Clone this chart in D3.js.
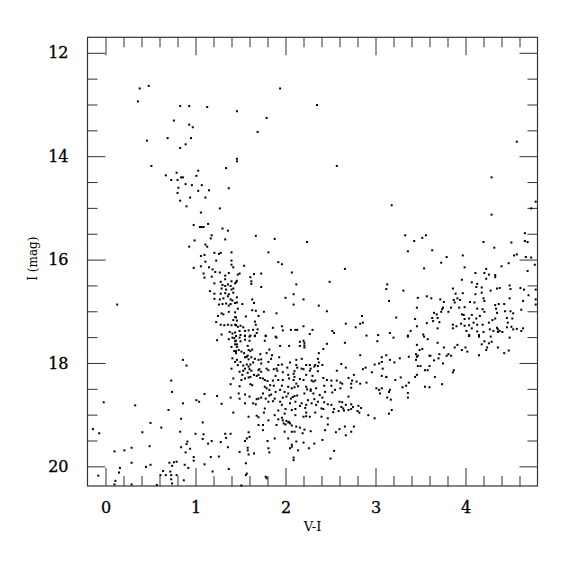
<!DOCTYPE html>
<html><head><meta charset="utf-8">
<script src="https://cdn.jsdelivr.net/npm/d3@7"></script>
<style>body{margin:0;background:#fff}</style>
</head><body>
<script>
// ---- data: [V-I, I] for each star, grouped by region of the diagram ----
const brightStars = [[0.38,12.69],[0.48,12.64],[0.36,12.94],[0.83,13.03],[0.93,13.03],[1.13,13.05],[0.76,13.31],[0.93,13.39],[0.97,13.44],[0.69,13.65],[0.95,13.65],[0.46,13.70],[0.89,13.77],[0.83,13.84],[0.51,14.19],[1.34,14.23],[1.03,14.28],[0.79,14.32],[0.67,14.37],[1.01,14.38],[0.84,14.41],[0.86,14.41],[0.73,14.46],[0.80,14.46],[0.89,14.54],[0.96,14.56],[1.07,14.56],[1.94,12.69],[2.35,13.01],[1.46,13.13],[1.79,13.26],[1.69,13.53],[1.46,14.05],[1.46,14.10],[2.57,14.19],[4.57,13.72],[4.29,14.41]];
const blueBranch = [[0.81,14.61],[1.03,14.67],[1.15,14.66],[1.37,14.62],[0.80,14.71],[0.94,14.80],[1.11,14.80],[0.83,14.86],[0.90,14.97],[1.27,15.01],[1.06,15.09],[0.98,15.33],[1.05,15.37],[1.07,15.37],[1.09,15.37],[1.14,15.31],[1.30,15.40],[1.36,15.44],[1.18,15.53],[1.17,15.59],[0.99,15.63],[1.33,15.61],[1.11,15.71],[1.13,15.75],[0.93,15.75],[1.21,15.87],[1.26,15.89],[1.28,15.87],[1.40,15.86],[1.06,15.93],[1.10,15.91],[1.11,16.04],[1.23,16.02],[1.40,16.02],[1.40,16.10],[1.42,16.15],[0.98,16.16],[1.06,16.13],[1.15,16.15],[1.19,16.19],[1.22,16.24],[1.27,16.25],[1.09,16.27],[1.10,16.35],[1.18,16.33],[1.33,16.31],[1.37,16.26],[1.33,16.38],[1.40,16.42],[1.45,16.44],[1.28,16.43],[1.21,16.46],[1.30,16.49],[1.33,16.51],[1.36,16.48],[1.39,16.51],[1.42,16.56],[1.29,16.56],[1.34,16.58],[1.40,16.58],[1.16,16.61],[1.21,16.66],[1.28,16.66],[1.33,16.65],[1.37,16.67],[1.42,16.64],[1.21,16.76],[1.27,16.77],[1.31,16.75],[1.36,16.71],[1.39,16.77],[1.41,16.79],[1.44,16.84],[1.26,16.87],[1.30,16.86],[1.34,16.85],[1.39,16.86],[1.37,16.89],[0.13,16.87],[1.37,17.01],[1.29,17.04],[1.31,17.06],[1.25,17.09],[1.44,17.11],[1.42,17.17],[1.23,17.21],[1.28,17.26],[1.32,17.27],[1.36,17.26],[1.40,17.27],[1.44,17.26],[1.38,17.40],[1.41,17.43],[1.29,17.45],[1.44,17.41]];
const midField = [[1.67,15.54],[1.88,15.60],[2.24,15.66],[1.81,15.86],[1.92,16.05],[1.96,16.09],[1.54,16.12],[1.49,16.27],[1.47,16.29],[1.65,16.28],[1.73,16.27],[1.61,16.34],[2.07,16.25],[2.66,16.18],[1.46,16.41],[1.44,16.46],[1.62,16.42],[1.62,16.47],[2.49,16.43],[2.12,16.48],[1.73,16.53],[2.09,16.67],[2.00,16.74],[1.46,16.73],[1.63,16.77],[2.20,16.77],[1.46,16.83],[1.52,16.86],[1.65,16.84],[2.09,16.87],[1.47,16.95],[2.37,16.89],[1.63,16.98],[1.67,16.99],[1.44,17.02],[1.76,17.01],[1.90,17.04],[2.46,17.00],[1.70,17.09],[1.56,17.10],[1.45,17.12],[2.85,17.09],[1.46,17.18],[1.66,17.20],[1.67,17.26],[2.67,17.24],[2.86,17.22],[2.83,17.24],[1.45,17.27],[1.47,17.30],[1.50,17.28],[1.53,17.31],[1.86,17.32],[1.96,17.29],[2.20,17.29],[2.78,17.31],[1.49,17.38],[1.55,17.38],[1.59,17.37],[1.64,17.36],[1.69,17.35],[1.97,17.37],[2.06,17.36],[2.11,17.36],[2.13,17.36],[2.30,17.36],[2.52,17.38],[2.54,17.42],[2.27,17.44],[1.68,17.42],[1.50,17.46],[1.55,17.47],[1.61,17.47],[1.66,17.47],[1.78,17.47],[1.89,17.49],[2.90,17.47],[3.03,17.46]];
const redClump = [[3.18,14.95],[4.78,14.88],[4.73,15.01],[4.29,15.13],[3.33,15.53],[3.43,15.64],[3.52,15.58],[3.56,15.53],[3.36,15.84],[3.63,15.82],[4.20,15.66],[4.32,15.77],[4.51,15.67],[4.66,15.49],[4.66,15.64],[4.69,15.66],[3.79,15.95],[3.97,15.92],[3.73,16.06],[3.99,16.15],[3.54,16.17],[4.54,15.92],[4.57,15.90],[4.67,15.95],[4.73,15.96],[4.77,16.10],[4.40,16.13],[4.48,16.07],[4.69,16.22],[4.23,16.18],[4.11,16.26],[4.21,16.26],[4.26,16.29],[4.33,16.30],[4.33,16.34],[3.96,16.39],[4.07,16.44],[4.13,16.47],[4.18,16.54],[4.12,16.53],[4.23,16.37],[3.13,16.48],[3.12,16.57],[3.31,16.60],[3.86,16.56],[3.89,16.66],[3.97,16.65],[4.11,16.67],[4.18,16.64],[4.28,16.60],[4.35,16.56],[4.38,16.55],[4.49,16.50],[4.50,16.57],[4.61,16.55],[4.65,16.58],[4.70,16.69],[4.78,16.58],[3.47,16.74],[3.57,16.71],[3.62,16.75],[3.72,16.77],[3.76,16.82],[3.87,16.78],[3.91,16.75],[3.94,16.78],[3.15,16.80],[3.46,16.93],[3.75,16.93],[3.84,16.93],[3.88,16.83],[3.93,16.93],[3.99,16.92],[4.05,16.82],[4.10,16.83],[4.13,16.95],[4.19,16.96],[4.20,16.75],[4.21,16.80],[4.33,16.88],[4.37,16.86],[4.34,16.95],[4.43,16.86],[4.49,16.75],[4.64,16.80],[4.78,16.77],[4.78,16.87],[4.62,16.97],[3.23,17.12],[3.44,17.15],[3.65,17.03],[3.68,17.06],[3.69,17.13],[3.63,17.13],[3.74,16.96],[3.73,17.01],[3.81,17.01],[3.96,17.06],[3.98,17.07],[3.99,17.15],[4.04,17.14],[4.07,17.07],[4.12,17.14],[4.16,17.09],[4.21,17.01],[4.26,17.22],[4.30,17.17],[4.33,17.14],[4.35,17.03],[4.44,17.00],[4.46,17.13],[4.50,17.00],[4.52,17.14],[4.53,17.04],[3.57,17.23],[3.46,17.29],[3.64,17.19],[3.71,17.21],[3.69,17.33],[3.86,17.26],[3.90,17.29],[3.86,17.33],[3.95,17.24],[3.99,17.28],[4.04,17.27],[4.09,17.22],[4.13,17.26],[4.19,17.26],[4.07,17.33],[4.01,17.38],[4.13,17.39],[4.20,17.40],[4.27,17.35],[4.31,17.38],[4.35,17.32],[4.36,17.35],[4.38,17.38],[4.41,17.40],[4.36,17.40],[4.47,17.22],[4.46,17.31],[4.51,17.30],[4.53,17.35],[4.57,17.34],[4.62,17.38],[4.64,17.33],[3.39,17.38],[3.16,17.42],[3.53,17.45],[3.36,17.47],[4.04,17.46],[4.15,17.46]];
const faintBlue = [[1.24,17.56],[1.37,17.54],[1.41,17.51],[1.43,17.52],[1.45,17.57],[1.40,17.69],[1.46,17.64],[1.43,17.77],[1.45,17.81],[1.41,17.91],[0.86,17.94],[0.90,18.05],[1.40,18.11],[1.42,18.30],[0.73,18.34],[1.39,18.41],[0.74,18.56],[1.39,18.67],[1.24,18.64],[-0.02,18.76],[0.33,18.82],[1.01,18.72],[1.04,18.75],[1.10,18.60],[0.86,18.78],[1.29,18.79],[0.70,18.91],[1.42,18.96],[0.84,19.08],[0.50,19.16],[1.08,19.15],[-0.14,19.28],[-0.07,19.36],[0.62,19.25],[0.41,19.34],[0.83,19.33],[1.00,19.37],[1.09,19.38],[1.33,19.37],[1.39,19.37],[1.08,19.47],[0.91,19.52],[1.18,19.51],[1.14,19.56],[0.90,19.57],[1.28,19.53],[1.34,19.45],[0.49,19.61],[0.84,19.63],[0.94,19.66],[1.36,19.63],[0.10,19.71],[0.21,19.69],[0.29,19.64],[0.89,19.73],[0.98,19.82],[0.98,19.89],[1.17,19.82],[1.26,19.81],[0.29,19.93],[0.50,19.97],[0.45,20.01],[0.71,19.93],[0.76,19.92],[0.79,19.91],[0.74,19.99],[0.88,19.97],[0.92,20.03],[1.10,19.96],[1.37,20.05],[0.16,20.03],[0.15,20.12],[1.19,20.10],[0.64,20.09],[0.61,20.17],[0.67,20.17],[0.72,20.10],[0.73,20.17],[0.73,20.25],[0.74,20.33],[0.79,20.17],[0.87,20.27],[-0.08,20.18],[0.11,20.28],[0.10,20.35],[0.29,20.35],[0.57,20.36]];
const faintField = [[1.45,17.48],[1.49,17.51],[1.55,17.48],[1.60,17.49],[1.66,17.48],[1.78,17.48],[1.90,17.51],[1.44,17.58],[1.50,17.58],[1.55,17.55],[1.60,17.57],[1.77,17.57],[2.16,17.59],[2.20,17.57],[2.21,17.61],[2.66,17.61],[3.02,17.58],[2.46,17.63],[1.44,17.64],[1.46,17.69],[1.48,17.75],[1.51,17.78],[1.45,17.77],[1.58,17.67],[1.54,17.81],[1.59,17.75],[1.61,17.77],[1.63,17.74],[1.58,17.86],[1.82,17.74],[1.94,17.67],[2.04,17.67],[2.16,17.67],[2.21,17.66],[2.21,17.70],[2.42,17.73],[2.37,17.81],[1.72,17.83],[1.79,17.81],[1.85,17.85],[2.83,17.85],[3.07,17.89],[3.12,17.85],[1.44,17.98],[1.46,17.94],[1.50,17.98],[1.55,17.89],[1.57,17.88],[1.59,17.93],[1.62,17.89],[1.66,17.92],[1.47,18.04],[1.53,18.05],[1.57,18.03],[1.59,18.07],[1.61,18.03],[1.64,17.99],[1.70,17.94],[1.73,17.93],[1.73,18.01],[1.84,17.92],[1.81,17.98],[1.93,17.89],[1.92,18.04],[1.96,18.03],[2.05,17.99],[2.12,17.94],[2.18,17.92],[2.12,18.04],[2.13,18.09],[2.02,18.09],[2.23,18.04],[2.27,18.04],[2.33,18.04],[2.36,17.92],[2.37,17.99],[2.28,18.11],[2.41,18.04],[2.32,18.07],[2.36,18.06],[2.62,18.02],[2.57,18.15],[2.67,18.09],[2.86,18.12],[2.89,18.09],[2.99,18.03],[3.04,18.01],[3.08,18.11],[3.07,17.98],[1.49,18.17],[1.53,18.15],[1.55,18.11],[1.58,18.19],[1.60,18.12],[1.62,18.15],[1.65,18.23],[1.68,18.25],[1.70,18.14],[1.71,18.12],[1.73,18.17],[1.70,18.23],[1.72,18.29],[1.79,18.11],[1.81,18.14],[1.52,18.23],[1.55,18.30],[1.59,18.28],[1.51,18.33],[1.61,18.27],[1.87,18.12],[1.90,18.11],[1.91,18.15],[1.89,18.25],[1.97,18.18],[2.03,18.23],[2.09,18.21],[2.10,18.16],[2.10,18.27],[2.18,18.11],[2.20,18.12],[2.23,18.23],[2.27,18.15],[2.36,18.16],[2.30,18.25],[2.31,18.36],[2.33,18.34],[2.29,18.34],[2.42,18.29],[2.46,18.33],[2.51,18.34],[2.57,18.34],[2.61,18.38],[2.63,18.40],[2.70,18.29],[2.76,18.23],[2.74,18.34],[2.79,18.36],[2.96,18.18],[3.07,18.25],[3.12,18.27],[1.77,18.33],[1.75,18.30],[1.80,18.35],[1.86,18.34],[1.92,18.33],[1.97,18.33],[2.04,18.30],[2.09,18.33],[2.16,18.31],[2.20,18.33],[2.12,18.40],[1.49,18.45],[1.61,18.41],[1.63,18.43],[1.77,18.46],[1.79,18.49],[1.82,18.52],[1.83,18.43],[1.87,18.44],[1.94,18.52],[1.96,18.44],[2.03,18.46],[2.07,18.49],[2.10,18.47],[2.14,18.45],[2.23,18.46],[2.24,18.51],[2.28,18.51],[2.34,18.49],[2.43,18.44],[2.51,18.44],[2.55,18.52],[2.61,18.49],[2.73,18.48],[2.73,18.40],[2.83,18.40],[2.90,18.38],[3.01,18.49],[3.04,18.52],[3.07,18.49],[3.05,18.59],[1.48,18.59],[1.55,18.61],[1.60,18.65],[1.84,18.61],[1.89,18.56],[1.99,18.56],[2.03,18.59],[2.08,18.66],[2.10,18.64],[2.13,18.63],[2.01,18.65],[1.97,18.67],[2.06,18.69],[2.21,18.59],[2.28,18.54],[2.31,18.59],[2.38,18.62],[2.44,18.56],[2.52,18.57],[2.70,18.65],[1.82,18.63],[1.78,18.69],[1.75,18.59],[1.49,18.69],[1.55,18.78],[1.68,18.70],[1.70,18.69],[1.73,18.67],[1.86,18.74],[1.88,18.69],[1.81,18.75],[1.94,18.75],[1.96,18.81],[2.00,18.89],[2.05,18.78],[2.11,18.75],[2.16,18.83],[2.18,18.78],[2.22,18.87],[2.23,18.81],[2.25,18.72],[2.29,18.78],[2.32,18.70],[2.36,18.75],[2.41,18.67],[2.43,18.76],[2.34,18.81],[2.40,18.88],[2.42,18.89],[2.47,18.80],[2.51,18.81],[2.54,18.89],[2.60,18.75],[2.63,18.76],[2.67,18.81],[2.62,18.85],[2.64,18.88],[2.73,18.80],[2.75,18.85],[2.81,18.83],[2.84,18.87],[2.80,18.93],[2.82,18.96],[2.73,18.89],[2.70,18.91],[2.65,18.92],[2.59,18.93],[2.53,18.95],[2.33,18.96],[2.23,18.96],[2.11,18.89],[2.07,18.91],[1.99,18.98],[1.92,18.92],[1.77,18.88],[1.67,18.80],[1.64,18.78],[1.76,18.96],[1.88,19.01],[1.92,19.09],[1.97,19.11],[2.01,19.12],[2.04,19.14],[2.05,19.17],[1.59,19.04],[1.68,19.02],[1.70,19.05],[1.81,19.11],[1.96,19.06],[2.11,19.01],[2.20,19.04],[2.23,19.03],[2.27,19.04],[2.40,19.04],[2.47,19.07],[2.92,19.01],[2.99,19.07],[1.70,19.20],[1.75,19.20],[1.75,19.30],[1.90,19.20],[1.98,19.17],[1.99,19.33],[2.03,19.15],[2.12,19.23],[2.16,19.25],[2.21,19.29],[2.19,19.36],[2.10,19.33],[2.07,19.33],[2.00,19.19],[2.07,19.21],[2.28,19.32],[2.47,19.19],[2.44,19.30],[2.56,19.34],[2.60,19.28],[2.66,19.23],[2.76,19.23],[2.73,19.33],[2.67,19.40],[1.59,19.34],[1.60,19.43],[1.80,19.51],[1.88,19.46],[1.57,19.46],[1.55,19.51],[1.49,19.72],[1.58,19.64],[1.58,19.69],[1.59,19.77],[1.65,19.75],[1.81,19.65],[1.82,19.73],[2.03,19.46],[2.07,19.58],[2.07,19.62],[2.05,19.65],[2.12,19.52],[2.14,19.69],[2.20,19.54],[2.26,19.65],[2.32,19.56],[2.41,19.49],[2.50,19.85],[2.54,19.70],[2.09,19.83],[2.09,19.88],[1.56,19.94],[1.57,20.14],[1.56,20.17],[1.51,20.37],[1.78,20.20],[1.79,20.23]];
const redField = [[3.20,17.51],[3.36,17.49],[3.54,17.49],[3.58,17.54],[3.69,17.61],[3.76,17.70],[3.88,17.70],[3.91,17.65],[3.96,17.75],[4.00,17.70],[4.02,17.78],[4.04,17.48],[4.15,17.49],[4.18,17.64],[4.21,17.58],[4.23,17.75],[4.24,17.70],[4.26,17.62],[4.29,17.59],[4.28,17.49],[4.36,17.70],[4.43,17.81],[4.48,17.76],[4.49,17.51],[4.15,17.85],[3.16,17.94],[3.21,17.99],[3.27,17.91],[3.37,17.88],[3.45,17.83],[3.45,17.94],[3.46,17.88],[3.47,17.86],[3.49,17.75],[3.52,17.73],[3.46,17.65],[3.60,17.86],[3.61,17.86],[3.65,17.95],[3.70,17.91],[3.71,17.83],[3.79,17.86],[3.81,17.83],[3.84,17.86],[3.75,18.01],[3.47,18.06],[3.50,18.06],[3.55,18.14],[3.58,18.14],[3.60,18.06],[3.86,18.18],[3.87,18.14],[3.12,18.27],[3.22,18.33],[3.28,18.28],[3.44,18.27],[3.46,18.23],[3.66,18.27],[3.37,18.38],[3.34,18.44],[3.30,18.47],[3.55,18.46],[3.60,18.47],[3.74,18.41],[3.16,18.52],[3.15,18.56],[3.36,18.58],[3.36,18.67],[3.13,18.67],[3.17,18.71],[3.18,18.91],[3.15,18.98]];

const xDomain = [-0.2, 4.8];
const yDomain = [11.7, 20.38];
const xMajorTicks = [0, 1, 2, 3, 4];
const xMinorTicks = [0.2,0.4,0.6,0.8,1.2,1.4,1.6,1.8,2.2,2.4,2.6,2.8,3.2,3.4,3.6,3.8,4.2,4.4,4.6];
const yMajorTicks = [12, 14, 16, 18, 20];
const yMinorTicks = [12.5,13,13.5,14.5,15,15.5,16.5,17,17.5,18.5,19,19.5];
const xTitle = "V-I";
const yTitle = "I (mag)";

const stars = [].concat(brightStars, blueBranch, midField, redClump, faintBlue, faintField, redField);

const W = 575, H = 575;
const L = 87.5, R = 537.5, T = 37.3, B = 486;
const svg = d3.select("body").append("svg").attr("width", W).attr("height", H);

const x = d3.scaleLinear().domain(xDomain).range([L, R]);
const y = d3.scaleLinear().domain(yDomain).range([T, B]);

const font = "'DejaVu Serif', 'Liberation Serif', serif";
const tickColor = "#333";

function styleAxis(g, labels) {
  g.select(".domain").remove();
  g.selectAll(".tick line").attr("stroke", tickColor).attr("stroke-width", 1);
  if (labels) g.selectAll(".tick text").attr("font-family", font).attr("font-size", 16).attr("fill", "#000")
    .attr("stroke", "#000").attr("stroke-width", 0.3);
  else g.selectAll(".tick text").remove();
}

// bottom
svg.append("g").attr("transform", `translate(0,${B})`)
  .call(d3.axisBottom(x).tickValues(xMajorTicks).tickSize(-18).tickPadding(16).tickFormat(d3.format("d")))
  .call(g => styleAxis(g, true));
svg.append("g").attr("transform", `translate(0,${B})`)
  .call(d3.axisBottom(x).tickValues(xMinorTicks).tickSize(-10).tickFormat(""))
  .call(g => styleAxis(g, false));
// top
svg.append("g").attr("transform", `translate(0,${T})`)
  .call(d3.axisTop(x).tickValues(xMajorTicks).tickSize(-18).tickFormat(""))
  .call(g => styleAxis(g, false));
svg.append("g").attr("transform", `translate(0,${T})`)
  .call(d3.axisTop(x).tickValues(xMinorTicks).tickSize(-10).tickFormat(""))
  .call(g => styleAxis(g, false));
// left
svg.append("g").attr("transform", `translate(${L},0)`)
  .call(d3.axisLeft(y).tickValues(yMajorTicks).tickSize(-18).tickPadding(19).tickFormat(d3.format("d")))
  .call(g => styleAxis(g, true));
svg.append("g").attr("transform", `translate(${L},0)`)
  .call(d3.axisLeft(y).tickValues(yMinorTicks).tickSize(-10).tickFormat(""))
  .call(g => styleAxis(g, false));
// right
svg.append("g").attr("transform", `translate(${R},0)`)
  .call(d3.axisRight(y).tickValues(yMajorTicks).tickSize(-18).tickFormat(""))
  .call(g => styleAxis(g, false));
svg.append("g").attr("transform", `translate(${R},0)`)
  .call(d3.axisRight(y).tickValues(yMinorTicks).tickSize(-10).tickFormat(""))
  .call(g => styleAxis(g, false));

// frame
svg.append("rect").attr("x", L).attr("y", T).attr("width", R - L).attr("height", B - T)
  .attr("fill", "none").attr("stroke", tickColor).attr("stroke-width", 1.2);

// stars
svg.append("g").selectAll("rect").data(stars).join("rect")
  .attr("x", d => x(d[0]) - 1).attr("y", d => y(d[1]) - 1)
  .attr("width", 2).attr("height", 2).attr("fill", "#000");

// titles
svg.append("text").attr("x", (L + R) / 2).attr("y", 531).attr("text-anchor", "middle")
  .attr("font-family", font).attr("font-size", 13).text(xTitle);
svg.append("text").attr("transform", `translate(37,${(T + B) / 2 - 3}) rotate(-90)`).attr("text-anchor", "middle")
  .attr("font-family", font).attr("font-size", 12).text(yTitle);
</script>
</body></html>
